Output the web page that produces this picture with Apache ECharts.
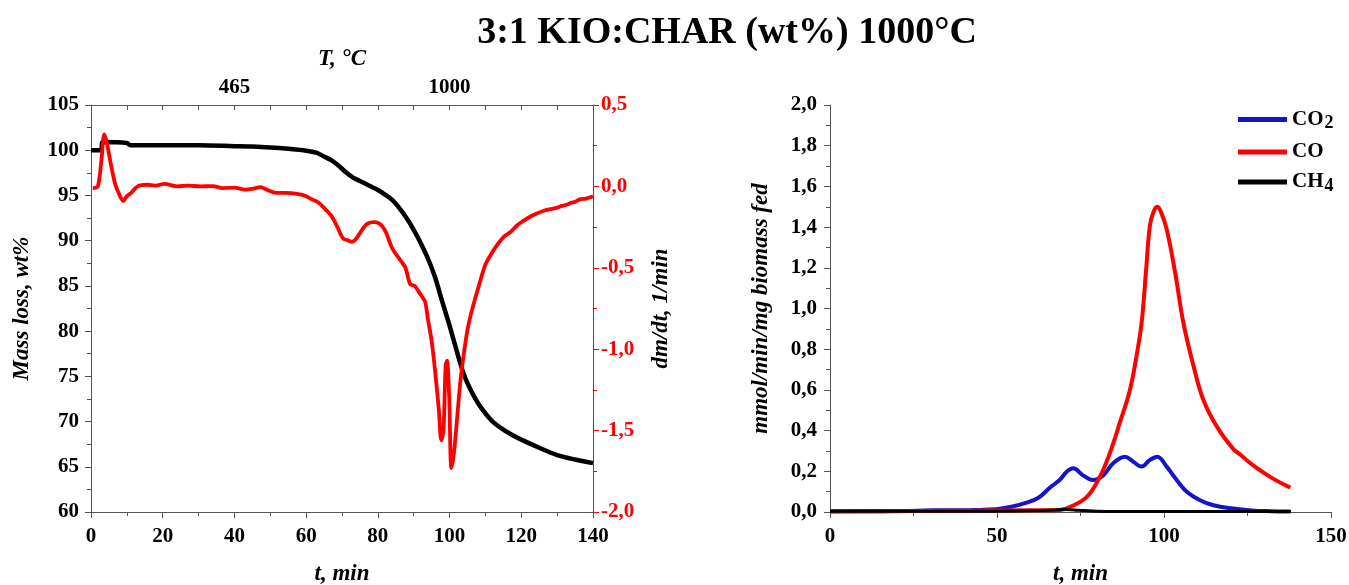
<!DOCTYPE html>
<html>
<head>
<meta charset="utf-8">
<script src="https://cdn.jsdelivr.net/npm/echarts@6/dist/echarts.min.js"></script>
<style>
  html, body { margin: 0; padding: 0; background: #fff; }
  #chart { width: 1349px; height: 585px; }
</style>
</head>
<body>
<div id="chart"></div>
<script>
// TGA mass loss (left axis)
var tgaTime = [0, 2.8, 3.2, 10, 11, 20, 30, 40, 45, 50, 55, 60, 63, 65, 67, 69, 71, 73, 75, 77, 80, 82, 84, 86, 88, 90, 92, 94, 96, 98, 100, 102, 104, 106, 108, 110, 112, 115, 118, 120, 125, 130, 135, 140];
var tgaMass = [100.0, 100.0, 100.9, 100.8, 100.55, 100.55, 100.55, 100.45, 100.4, 100.3, 100.15, 99.95, 99.7, 99.3, 98.9, 98.3, 97.6, 97.0, 96.6, 96.2, 95.6, 95.1, 94.5, 93.6, 92.5, 91.2, 89.7, 88.0, 85.9, 83.2, 80.6, 77.8, 75.2, 73.4, 72.0, 70.9, 70.0, 69.1, 68.4, 68.0, 67.1, 66.3, 65.8, 65.4];

// DTG (right axis, red)
var dtgTime = [0.5, 1.9, 2.9, 3.7, 4.4, 5.6, 6.8, 8.1, 9.0, 10, 11.2, 13, 15.6, 18, 20.5, 24, 27, 30.5, 34, 36.7, 40, 43, 45, 47.3, 49, 51.6, 54, 57.9, 60, 61.6, 63.5, 65.3, 67, 68.5, 70.3, 71.5, 72.8, 74, 75.5, 77, 79, 80.5, 82, 84, 85.5, 86.5, 87.7, 89, 90.2, 91.2, 92.4, 93.2, 94, 95, 95.8, 97, 97.7, 98.3, 98.9, 99.3, 99.9, 100.5, 101.2, 102.2, 103, 103.9, 105, 105.8, 107, 108.3, 110, 111.5, 112.6, 115.1, 117, 118.8, 120, 122.6, 124, 126.3, 128, 130, 131.3, 133, 133.8, 135, 136.3, 138, 140];
var dtgRate = [-0.01, 0.0, 0.16, 0.32, 0.27, 0.13, 0.01, -0.06, -0.09, -0.06, -0.04, 0.0, 0.01, 0.005, 0.015, 0.0, 0.005, 0.0, 0.002, -0.01, -0.008, -0.02, -0.015, -0.005, -0.02, -0.04, -0.04, -0.047, -0.06, -0.08, -0.1, -0.14, -0.18, -0.24, -0.32, -0.33, -0.34, -0.32, -0.27, -0.23, -0.22, -0.23, -0.27, -0.38, -0.43, -0.46, -0.5, -0.6, -0.61, -0.64, -0.68, -0.71, -0.82, -0.95, -1.10, -1.37, -1.56, -1.50, -1.10, -1.07, -1.30, -1.73, -1.64, -1.40, -1.20, -1.04, -0.88, -0.80, -0.70, -0.60, -0.48, -0.42, -0.38, -0.31, -0.28, -0.24, -0.22, -0.185, -0.17, -0.15, -0.14, -0.13, -0.12, -0.11, -0.10, -0.095, -0.08, -0.075, -0.06];

// evolved gases (right chart)
var co2Time = [0, 20, 31, 42.7, 49.6, 54.3, 58.9, 62.4, 65.9, 68.9, 71, 72.8, 75.8, 78.8, 81.8, 84.8, 88.3, 90.8, 93.3, 95.8, 98.0, 100.8, 103.8, 106.8, 110.8, 114.8, 120.7, 126.2, 132, 137.8];
var co2 = [0.004, 0.005, 0.008, 0.01, 0.013, 0.026, 0.046, 0.07, 0.12, 0.16, 0.2, 0.215, 0.18, 0.157, 0.18, 0.24, 0.272, 0.247, 0.223, 0.256, 0.272, 0.223, 0.157, 0.10, 0.058, 0.033, 0.017, 0.008, 0.004, 0.002];
var coTime = [0, 10, 25, 45, 60, 66, 68.9, 71.9, 76.9, 80.8, 83.8, 86.8, 89.8, 91.8, 93.3, 94.6, 95.8, 97, 98.0, 99.2, 100.8, 103.3, 105.8, 108.8, 111.8, 115.8, 120.7, 123, 126.2, 132, 137.8];
var co = [0.002, 0.002, 0.005, 0.007, 0.008, 0.008, 0.01, 0.025, 0.074, 0.173, 0.29, 0.44, 0.60, 0.77, 0.93, 1.18, 1.41, 1.48, 1.50, 1.47, 1.39, 1.18, 0.93, 0.72, 0.55, 0.42, 0.31, 0.28, 0.235, 0.17, 0.12];
var ch4Time = [0, 20, 40, 55, 62, 67, 70, 73, 76, 80, 90, 100, 110, 120, 130, 138];
var ch4 = [0.004, 0.004, 0.004, 0.005, 0.007, 0.01, 0.012, 0.01, 0.007, 0.004, 0.002, 0.002, 0.002, 0.003, 0.002, 0.002];

var topLabels = { 40: '465', 100: '1000' };
var gasNames = ['CO2', 'CO', 'CH4'];

function pairs(xs, ys) {
  return xs.map(function (x, i) { return [x, ys[i]]; });
}
function comma(v) {
  return v.toFixed(1).replace('.', ',');
}

var FONT = 'Liberation Serif';
var lbl = { fontFamily: FONT, fontWeight: 'bold', fontSize: 21, color: '#000' };
var nameStyle = { fontFamily: FONT, fontWeight: 'bold', fontStyle: 'italic', fontSize: 23, color: '#000' };
var axLine = { show: true, onZero: false, lineStyle: { color: '#555', width: 1 } };
var tick = { show: true, length: 6, lineStyle: { color: '#555' } };
var minor = { show: true, splitNumber: 2, length: 4, lineStyle: { color: '#555' } };

var myChart = echarts.init(document.getElementById('chart'));
var option = {
  backgroundColor: '#fff',
  animation: false,
  title: {
    text: '3:1 KIO:CHAR (wt%) 1000°C',
    left: 722,
    textAlign: 'center',
    top: 9,
    textStyle: { fontFamily: FONT, fontWeight: 'bold', fontSize: 38, color: '#000' }
  },
  legend: {
    data: gasNames,
    orient: 'vertical',
    left: 1233,
    top: 104,
    itemWidth: 49,
    itemHeight: 5,
    itemGap: 9,
    icon: 'rect',
    formatter: function (n) {
      if (n === 'CO2') return '{a|CO}{s|2}';
      if (n === 'CH4') return '{a|CH}{s|4}';
      return '{a|CO}';
    },
    textStyle: {
      rich: {
        a: { fontFamily: FONT, fontWeight: 'bold', fontSize: 21, color: '#000' },
        s: { fontFamily: FONT, fontWeight: 'bold', fontSize: 18, color: '#000', padding: [8, 0, 0, 1] }
      }
    }
  },
  grid: [
    { left: 91, right: 756, top: 105, bottom: 73, containLabel: false, outerBoundsMode: 'none' },
    { left: 830, right: 18, top: 105, bottom: 73, containLabel: false, outerBoundsMode: 'none' }
  ],
  xAxis: [
    {
      gridIndex: 0, type: 'value', min: 0, max: 140, interval: 20,
      name: 't, min', nameLocation: 'middle', nameGap: 51, nameTextStyle: nameStyle,
      axisLine: axLine, axisTick: tick, minorTick: minor,
      axisLabel: Object.assign({}, lbl, { margin: 14 }), splitLine: { show: false }
    },
    {
      gridIndex: 0, type: 'value', position: 'top', min: 0, max: 140, interval: 10,
      name: 'T, °C', nameLocation: 'middle', nameGap: 34, nameTextStyle: nameStyle,
      axisLine: axLine, axisTick: { show: true, inside: true, length: 5, lineStyle: { color: '#555' } },
      axisLabel: Object.assign({}, lbl, {
        margin: 7,
        formatter: function (v) { return topLabels[v] || ''; }
      }),
      splitLine: { show: false }
    },
    {
      gridIndex: 1, type: 'value', min: 0, max: 150, interval: 50,
      name: 't, min', nameLocation: 'middle', nameGap: 51, nameTextStyle: nameStyle,
      axisLine: axLine, axisTick: tick, minorTick: minor,
      axisLabel: Object.assign({}, lbl, { margin: 14 }), splitLine: { show: false }
    }
  ],
  yAxis: [
    {
      gridIndex: 0, type: 'value', min: 60, max: 105, interval: 5,
      name: 'Mass loss, wt%', nameLocation: 'middle', nameGap: 57, nameRotate: 90, nameTextStyle: nameStyle,
      axisLine: axLine, axisTick: tick, minorTick: minor,
      axisLabel: Object.assign({}, lbl, { margin: 12 }), splitLine: { show: false }
    },
    {
      gridIndex: 0, type: 'value', position: 'right', min: -2, max: 0.5, interval: 0.5,
      name: 'dm/dt, 1/min', nameLocation: 'middle', nameGap: 57, nameRotate: 90, nameTextStyle: nameStyle,
      axisLine: { show: true, onZero: false, lineStyle: { color: '#ff0000', width: 1 } },
      axisTick: { show: true, length: 6, lineStyle: { color: '#ff0000' } },
      minorTick: { show: true, splitNumber: 2, length: 4, lineStyle: { color: '#ff0000' } },
      axisLabel: Object.assign({}, lbl, { color: '#ff0000', margin: 8, formatter: comma }),
      splitLine: { show: false }
    },
    {
      gridIndex: 1, type: 'value', min: 0, max: 2, interval: 0.2,
      name: 'mmol/min/mg biomass fed', nameLocation: 'middle', nameGap: 57, nameRotate: 90, nameTextStyle: nameStyle,
      axisLine: axLine, axisTick: tick, minorTick: minor,
      axisLabel: Object.assign({}, lbl, { margin: 13, formatter: comma }),
      splitLine: { show: false }
    }
  ],
  series: [
    {
      name: 'Mass', type: 'line', xAxisIndex: 0, yAxisIndex: 0,
      data: pairs(tgaTime, tgaMass), showSymbol: false, smooth: 0.3,
      lineStyle: { color: '#000', width: 4.5 }, z: 3
    },
    {
      name: 'DTG', type: 'line', xAxisIndex: 0, yAxisIndex: 1,
      data: pairs(dtgTime, dtgRate), showSymbol: false, smooth: 0.3,
      lineStyle: { color: '#ff0000', width: 3.8 }, z: 4
    },
    {
      name: 'CO2', type: 'line', xAxisIndex: 2, yAxisIndex: 2,
      data: pairs(co2Time, co2), showSymbol: false, smooth: 0.4,
      itemStyle: { color: '#1414c8' }, lineStyle: { color: '#1414c8', width: 4 }
    },
    {
      name: 'CO', type: 'line', xAxisIndex: 2, yAxisIndex: 2,
      data: pairs(coTime, co), showSymbol: false, smooth: 0.4,
      itemStyle: { color: '#ff0000' }, lineStyle: { color: '#ff0000', width: 4 }
    },
    {
      name: 'CH4', type: 'line', xAxisIndex: 2, yAxisIndex: 2,
      data: pairs(ch4Time, ch4), showSymbol: false, smooth: 0.4,
      itemStyle: { color: '#000' }, lineStyle: { color: '#000', width: 3 }
    }
  ]
};
myChart.setOption(option);
</script>
</body>
</html>
